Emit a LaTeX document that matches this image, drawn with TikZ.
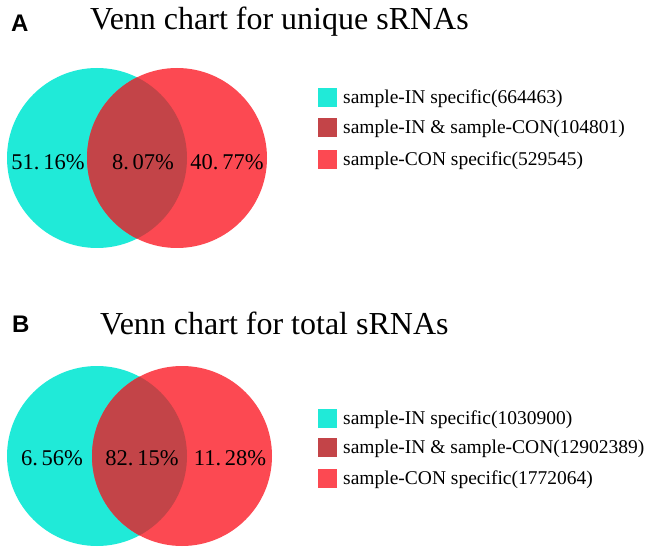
\documentclass[tikz,border=0pt]{standalone}
\usepackage{fontspec}
\setmainfont{Liberation Serif}
\newfontfamily\panelfont{Liberation Sans}
\usetikzlibrary{positioning}

\definecolor{venncyan}{RGB}{32,234,216}
\definecolor{vennred}{RGB}{252,73,82}
\definecolor{venndark}{RGB}{195,68,72}

\begin{document}
\begin{tikzpicture}[
    x=1pt, y=-1pt,
    % Define text styles
    panel/.style={anchor=base west, inner sep=0pt, font=\panelfont\bfseries\fontsize{24}{24}\selectfont},
    title/.style={anchor=base west, inner sep=0pt, font=\fontsize{32}{32}\selectfont},
    pct/.style={anchor=base, inner sep=0pt, font=\fontsize{22.5}{22.5}\selectfont},
    legtext/.style={anchor=base west, inner sep=0pt, font=\fontsize{19.5}{19.5}\selectfont},
    % Define legend square style
    legbox/.style={minimum size=19pt, inner sep=0pt, fill=#1}
]
\useasboundingbox (0,0) rectangle (653,553);

% Common circle radius
\def\rad{90}

% Panel A: unique sRNAs
\begin{scope}
    \node[panel] (labA) at (11,32) {A};
    \node[title] (titleA) at (90,30) {Venn chart for unique sRNAs};
    \fill[venncyan] (97,158) circle (\rad);
    \fill[vennred] (177,158) circle (\rad);
    \begin{scope}
        \clip (97,158) circle (\rad);
        \fill[venndark] (177,158) circle (\rad);
    \end{scope}
    \node[pct] (inA) at (48,170) {51.\,16\%};
    \node[pct] (bothA) at (143,170) {8.\,07\%};
    \node[pct] (conA) at (227,170) {40.\,77\%};
    % Legend
    \node[legbox=venncyan] (boxA1) at (327.5,98) {};
    \node[legbox=venndark] (boxA2) at (327.5,128) {};
    \node[legbox=vennred] (boxA3) at (327.5,160) {};
    \node[legtext] (txtA1) at (343,104) {sample-IN specific(664463)};
    \node[legtext] (txtA2) at (343,134) {sample-IN \& sample-CON(104801)};
    \node[legtext] (txtA3) at (343,166) {sample-CON specific(529545)};
\end{scope}

% Panel B: total sRNAs
\begin{scope}
    \node[panel] (labB) at (12,332) {B};
    \node[title] (titleB) at (100,334) {Venn chart for total sRNAs};
    \fill[venncyan] (97,456) circle (\rad);
    \fill[vennred] (182,456) circle (\rad);
    \begin{scope}
        \clip (97,456) circle (\rad);
        \fill[venndark] (182,456) circle (\rad);
    \end{scope}
    \node[pct] (inB) at (52,465) {6.\,56\%};
    \node[pct] (bothB) at (142,465) {82.\,15\%};
    \node[pct] (conB) at (230,465) {11.\,28\%};
    % Legend
    \node[legbox=venncyan] (boxB1) at (327.5,418) {};
    \node[legbox=venndark] (boxB2) at (327.5,447) {};
    \node[legbox=vennred] (boxB3) at (327.5,478) {};
    \node[legtext] (txtB1) at (343,424) {sample-IN specific(1030900)};
    \node[legtext] (txtB2) at (343,453) {sample-IN \& sample-CON(12902389)};
    \node[legtext] (txtB3) at (343,484) {sample-CON specific(1772064)};
\end{scope}

\end{tikzpicture}
\end{document}
